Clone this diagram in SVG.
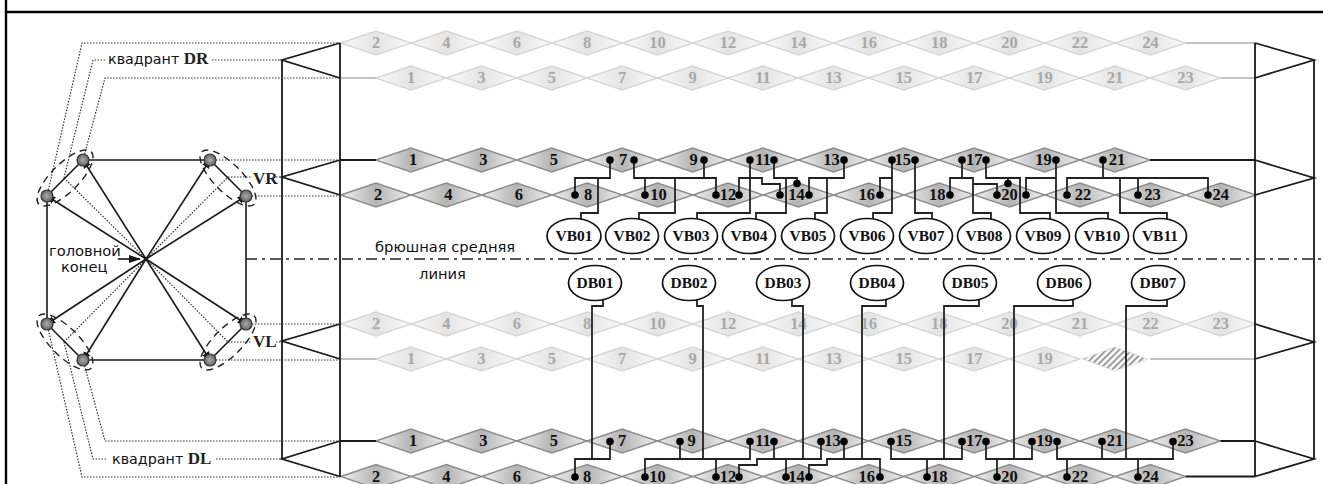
<svg xmlns="http://www.w3.org/2000/svg" width="1323" height="484" viewBox="0 0 1323 484">
<style>
text{font-family:"Liberation Serif","Times New Roman",serif}
.n text,text.n{font-size:16.5px;font-weight:bold;text-anchor:middle;fill:#111}
.l text{fill:#a8a8a8}
.v text{font-size:15.5px}
.s{font-family:"DejaVu Sans",sans-serif;font-size:14.7px;fill:#111}
.k{font-family:"DejaVu Sans",sans-serif;font-size:14.3px;fill:#111}
.q{font-family:"Liberation Serif",serif;font-size:17px;fill:#222}
.w{fill:none;stroke:#222;stroke-width:1.8}
.b{fill:none;stroke:#1a1a1a;stroke-width:1.8}
.o{fill:none;stroke:#333;stroke-width:1.2;stroke-dasharray:1.5 1.5}
.da{fill:none;stroke:#222;stroke-width:1.4;stroke-dasharray:7 5}
.sp{fill:none;stroke:#1a1a1a;stroke-width:1.6}
.e{fill:#fff;stroke:#111;stroke-width:1.7}
.dot{fill:#000}
</style>
<defs>
<linearGradient id="gd"><stop offset="0" stop-color="#f0f0f0"/><stop offset=".5" stop-color="#b4b4b4"/><stop offset="1" stop-color="#f0f0f0"/></linearGradient>
<linearGradient id="gl"><stop offset="0" stop-color="#fafafa"/><stop offset=".5" stop-color="#e4e4e4"/><stop offset="1" stop-color="#fafafa"/></linearGradient>
<radialGradient id="gc"><stop offset="0" stop-color="#aaa"/><stop offset="1" stop-color="#666"/></radialGradient>
<pattern id="hatch" width="4.5" height="4.5" patternUnits="userSpaceOnUse" patternTransform="rotate(45)"><rect width="4.5" height="4.5" fill="#fff"/><rect width="2" height="4.5" fill="#9a9a9a"/></pattern>
<polygon id="dd" points="-35.2,0 0,-12 35.2,0 0,12" fill="url(#gd)" stroke="#8c8c8c" stroke-width="1.4"/>
<polygon id="ld" points="-35.2,0 0,-12 35.2,0 0,12" fill="url(#gl)" stroke="#d6d6d6" stroke-width="1.4"/>
<circle id="pt" r="3.800" class="dot"/>
<marker id="ah" markerWidth="6" markerHeight="6" refX="5" refY="3" orient="auto"><path d="M0,0.5L5,3L0,5.5z" fill="#111"/></marker>
<marker id="big" markerWidth="12" markerHeight="8" refX="11" refY="4" orient="auto" markerUnits="userSpaceOnUse"><path d="M0,0L12,4L0,8z" fill="#111"/></marker>
</defs>
<rect width="1323" height="484" fill="#fff"/>
<path d="M6,0V484M6,12H1323" fill="none" stroke="#000" stroke-width="2.4"/>

<g id="row-dr-even" class="n l">
<g id="dr2" transform="translate(376,43)"><use href="#ld"/><text y="5">2</text></g>
<g id="dr4" transform="translate(446.4,43)"><use href="#ld"/><text y="5">4</text></g>
<g id="dr6" transform="translate(516.8,43)"><use href="#ld"/><text y="5">6</text></g>
<g id="dr8" transform="translate(587.2,43)"><use href="#ld"/><text y="5">8</text></g>
<g id="dr10" transform="translate(657.6,43)"><use href="#ld"/><text y="5">10</text></g>
<g id="dr12" transform="translate(728,43)"><use href="#ld"/><text y="5">12</text></g>
<g id="dr14" transform="translate(798.4,43)"><use href="#ld"/><text y="5">14</text></g>
<g id="dr16" transform="translate(868.8,43)"><use href="#ld"/><text y="5">16</text></g>
<g id="dr18" transform="translate(939.2,43)"><use href="#ld"/><text y="5">18</text></g>
<g id="dr20" transform="translate(1009.6,43)"><use href="#ld"/><text y="5">20</text></g>
<g id="dr22" transform="translate(1080,43)"><use href="#ld"/><text y="5">22</text></g>
<g id="dr24" transform="translate(1150.4,43)"><use href="#ld"/><text y="5">24</text></g>
</g>
<g id="row-dr-odd" class="n l">
<g id="dr1" transform="translate(411,78)"><use href="#ld"/><text y="5">1</text></g>
<g id="dr3" transform="translate(481.4,78)"><use href="#ld"/><text y="5">3</text></g>
<g id="dr5" transform="translate(551.8,78)"><use href="#ld"/><text y="5">5</text></g>
<g id="dr7" transform="translate(622.2,78)"><use href="#ld"/><text y="5">7</text></g>
<g id="dr9" transform="translate(692.6,78)"><use href="#ld"/><text y="5">9</text></g>
<g id="dr11" transform="translate(763,78)"><use href="#ld"/><text y="5">11</text></g>
<g id="dr13" transform="translate(833.4,78)"><use href="#ld"/><text y="5">13</text></g>
<g id="dr15" transform="translate(903.8,78)"><use href="#ld"/><text y="5">15</text></g>
<g id="dr17" transform="translate(974.2,78)"><use href="#ld"/><text y="5">17</text></g>
<g id="dr19" transform="translate(1044.6,78)"><use href="#ld"/><text y="5">19</text></g>
<g id="dr21" transform="translate(1115,78)"><use href="#ld"/><text y="5">21</text></g>
<g id="dr23" transform="translate(1185.4,78)"><use href="#ld"/><text y="5">23</text></g>
</g>
<g id="row-vr-odd" class="n">
<g id="vr1" transform="translate(411,160)"><use href="#dd"/><text x="2" y="5">1</text></g>
<g id="vr3" transform="translate(481.4,160)"><use href="#dd"/><text x="2" y="5">3</text></g>
<g id="vr5" transform="translate(551.8,160)"><use href="#dd"/><text x="2" y="5">5</text></g>
<g id="vr7" transform="translate(622.2,160)"><use href="#dd"/><text x="1" y="5">7</text></g>
<g id="vr9" transform="translate(692.6,160)"><use href="#dd"/><text x="1" y="5">9</text></g>
<g id="vr11" transform="translate(763,160)"><use href="#dd"/><text y="5">11</text></g>
<g id="vr13" transform="translate(833.4,160)"><use href="#dd"/><text x="-2" y="5">13</text></g>
<g id="vr15" transform="translate(903.8,160)"><use href="#dd"/><text x="-1" y="5">15</text></g>
<g id="vr17" transform="translate(974.2,160)"><use href="#dd"/><text y="5">17</text></g>
<g id="vr19" transform="translate(1044.6,160)"><use href="#dd"/><text x="-1" y="5">19</text></g>
<g id="vr21" transform="translate(1115,160)"><use href="#dd"/><text x="2" y="5">21</text></g>
</g>
<g id="row-vr-even" class="n">
<g id="vr2" transform="translate(376,195)"><use href="#dd"/><text x="2" y="5">2</text></g>
<g id="vr4" transform="translate(446.4,195)"><use href="#dd"/><text x="2" y="5">4</text></g>
<g id="vr6" transform="translate(516.8,195)"><use href="#dd"/><text x="2" y="5">6</text></g>
<g id="vr8" transform="translate(587.2,195)"><use href="#dd"/><text x="1" y="5">8</text></g>
<g id="vr10" transform="translate(657.6,195)"><use href="#dd"/><text x="1" y="5">10</text></g>
<g id="vr12" transform="translate(728,195)"><use href="#dd"/><text y="5">12</text></g>
<g id="vr14" transform="translate(798.4,195)"><use href="#dd"/><text x="-2" y="5">14</text></g>
<g id="vr16" transform="translate(868.8,195)"><use href="#dd"/><text x="-2" y="5">16</text></g>
<g id="vr18" transform="translate(939.2,195)"><use href="#dd"/><text x="-2" y="5">18</text></g>
<g id="vr20" transform="translate(1009.6,195)"><use href="#dd"/><text y="5">20</text></g>
<g id="vr22" transform="translate(1080,195)"><use href="#dd"/><text x="3" y="5">22</text></g>
<g id="vr23" transform="translate(1150.4,195)"><use href="#dd"/><text x="2" y="5">23</text></g>
<g id="vr24" transform="translate(1220.8,195)"><use href="#dd"/><text y="5">24</text></g>
</g>
<g id="row-vl-even" class="n l">
<g id="vl2" transform="translate(376,324)"><use href="#ld"/><text y="5">2</text></g>
<g id="vl4" transform="translate(446.4,324)"><use href="#ld"/><text y="5">4</text></g>
<g id="vl6" transform="translate(516.8,324)"><use href="#ld"/><text y="5">6</text></g>
<g id="vl8" transform="translate(587.2,324)"><use href="#ld"/><text y="5">8</text></g>
<g id="vl10" transform="translate(657.6,324)"><use href="#ld"/><text y="5">10</text></g>
<g id="vl12" transform="translate(728,324)"><use href="#ld"/><text y="5">12</text></g>
<g id="vl14" transform="translate(798.4,324)"><use href="#ld"/><text y="5">14</text></g>
<g id="vl16" transform="translate(868.8,324)"><use href="#ld"/><text y="5">16</text></g>
<g id="vl18" transform="translate(939.2,324)"><use href="#ld"/><text y="5">18</text></g>
<g id="vl20" transform="translate(1009.6,324)"><use href="#ld"/><text y="5">20</text></g>
<g id="vl21" transform="translate(1080,324)"><use href="#ld"/><text y="5">21</text></g>
<g id="vl22" transform="translate(1150.4,324)"><use href="#ld"/><text y="5">22</text></g>
<g id="vl23" transform="translate(1220.8,324)"><use href="#ld"/><text y="5">23</text></g>
</g>
<g id="row-vl-odd" class="n l">
<g id="vl1" transform="translate(411,359)"><use href="#ld"/><text y="5">1</text></g>
<g id="vl3" transform="translate(481.4,359)"><use href="#ld"/><text y="5">3</text></g>
<g id="vl5" transform="translate(551.8,359)"><use href="#ld"/><text y="5">5</text></g>
<g id="vl7" transform="translate(622.2,359)"><use href="#ld"/><text y="5">7</text></g>
<g id="vl9" transform="translate(692.6,359)"><use href="#ld"/><text y="5">9</text></g>
<g id="vl11" transform="translate(763,359)"><use href="#ld"/><text y="5">11</text></g>
<g id="vl13" transform="translate(833.4,359)"><use href="#ld"/><text y="5">13</text></g>
<g id="vl15" transform="translate(903.8,359)"><use href="#ld"/><text y="5">15</text></g>
<g id="vl17" transform="translate(974.2,359)"><use href="#ld"/><text y="5">17</text></g>
<g id="vl19" transform="translate(1044.6,359)"><use href="#ld"/><text y="5">19</text></g>
<g id="vl-hatched" transform="translate(1115,359)"><polygon points="-33,0 0,-12 33,0 0,12" fill="url(#hatch)" stroke="#e0e0e0"/></g>
</g>
<g id="row-dl-odd" class="n">
<g id="dl1" transform="translate(411,441)"><use href="#dd"/><text x="2" y="5">1</text></g>
<g id="dl3" transform="translate(481.4,441)"><use href="#dd"/><text x="2" y="5">3</text></g>
<g id="dl5" transform="translate(551.8,441)"><use href="#dd"/><text x="2" y="5">5</text></g>
<g id="dl7" transform="translate(622.2,441)"><use href="#dd"/><text y="5">7</text></g>
<g id="dl9" transform="translate(692.6,441)"><use href="#dd"/><text x="-1" y="5">9</text></g>
<g id="dl11" transform="translate(763,441)"><use href="#dd"/><text y="5">11</text></g>
<g id="dl13" transform="translate(833.4,441)"><use href="#dd"/><text x="-1" y="5">13</text></g>
<g id="dl15" transform="translate(903.8,441)"><use href="#dd"/><text y="5">15</text></g>
<g id="dl17" transform="translate(974.2,441)"><use href="#dd"/><text y="5">17</text></g>
<g id="dl19" transform="translate(1044.6,441)"><use href="#dd"/><text y="5">19</text></g>
<g id="dl21" transform="translate(1115,441)"><use href="#dd"/><text y="5">21</text></g>
<g id="dl23" transform="translate(1185.4,441)"><use href="#dd"/><text y="5">23</text></g>
</g>
<g id="row-dl-even" class="n">
<g id="dl2" transform="translate(376,476.5)"><use href="#dd"/><text y="5">2</text></g>
<g id="dl4" transform="translate(446.4,476.5)"><use href="#dd"/><text y="5">4</text></g>
<g id="dl6" transform="translate(516.8,476.5)"><use href="#dd"/><text y="5">6</text></g>
<g id="dl8" transform="translate(587.2,476.5)"><use href="#dd"/><text y="5">8</text></g>
<g id="dl10" transform="translate(657.6,476.5)"><use href="#dd"/><text y="5">10</text></g>
<g id="dl12" transform="translate(728,476.5)"><use href="#dd"/><text y="5">12</text></g>
<g id="dl14" transform="translate(798.4,476.5)"><use href="#dd"/><text x="-2" y="5">14</text></g>
<g id="dl16" transform="translate(868.8,476.5)"><use href="#dd"/><text x="-2" y="5">16</text></g>
<g id="dl18" transform="translate(939.2,476.5)"><use href="#dd"/><text y="5">18</text></g>
<g id="dl20" transform="translate(1009.6,476.5)"><use href="#dd"/><text y="5">20</text></g>
<g id="dl22" transform="translate(1080,476.5)"><use href="#dd"/><text y="5">22</text></g>
<g id="dl24" transform="translate(1150.4,476.5)"><use href="#dd"/><text y="5">24</text></g>
</g>

<g id="connectors">
<path d="M340,78H376M1185.6,43H1255M1220.6,78H1255M1150,359H1255M340,359H376" fill="none" stroke="#b0b0b0" stroke-width="1.6"/>
<path class="b" d="M340,160H376M1150.2,160H1255M340,441H376M1220.6,441H1255M1185.6,476.5H1255"/>
<path class="b" d="M282,60V459M340,43V477M1255,43V477M1314,60V459"/>
<path class="b" d="M340,43L282,60L340,78M340,160L282,177L340,195M340,324L282,341L340,359M340,441L282,459L340,476.5"/>
<path class="b" d="M1255,43L1314,60L1255,78M1255,160L1314,178L1255,195M1255,324L1314,342L1255,359M1255,441L1314,459L1255,476.5"/>
<path d="M246,259H1323" fill="none" stroke="#222" stroke-width="1.5" stroke-dasharray="11 5 3 5"/>

<path class="o" d="M47,196L82,43H340M64,178L93,60H106M212,60H282M83,160L105,78H340M210,160H340M246,196H340M228,177H252M276,177H282M47,324L82,477H340M64,342L93,459H106M216,459H282M83,360L105,441H340M246,324H340M210,360H340M228,342H252M276,342H282"/>
<path class="o" d="M64,178L146,259L228,177M64,342L146,259L228,342"/>
<path class="sp" marker-end="url(#ah)" d="M146,259L47,196"/>
<path class="sp" marker-end="url(#ah)" d="M146,259L83,160"/>
<path class="sp" marker-end="url(#ah)" d="M146,259L210,160"/>
<path class="sp" marker-end="url(#ah)" d="M146,259L246,196"/>
<path class="sp" marker-end="url(#ah)" d="M146,259L47,324"/>
<path class="sp" marker-end="url(#ah)" d="M146,259L83,360"/>
<path class="sp" marker-end="url(#ah)" d="M146,259L210,360"/>
<path class="sp" marker-end="url(#ah)" d="M146,259L246,324"/>
<path class="sp" d="M47,196L83,160H210L246,196V324L210,360H83L47,324Z"/>
<path d="M118,259H140" fill="none" stroke="#111" stroke-width="1.6" marker-end="url(#big)"/>
<ellipse class="da" cx="65" cy="178" rx="37" ry="14" transform="rotate(-45 65 178)"/>
<ellipse class="da" cx="228" cy="178" rx="37" ry="14" transform="rotate(45 228 178)"/>
<ellipse class="da" cx="65" cy="342" rx="37" ry="14" transform="rotate(45 65 342)"/>
<ellipse class="da" cx="228" cy="342" rx="37" ry="14" transform="rotate(-45 228 342)"/>

<path class="w" d="M610,160V178H575V195M598,178V213H581V219"/>
<path class="w" d="M634,160V178H716V195M645,178V195M704,160V178M675,178V213H639V219"/>
<path class="w" d="M750,160V213H697V219M739,195V178H762V184H780V195"/>
<path class="w" d="M774,160V178H797V183M786,178V213H756V219"/>
<path class="w" d="M844,160V178H809V195M827,178V213H815V219"/>
<path class="w" d="M892,160V213H873V219M880,195V178H892"/>
<path class="w" d="M915,160V213H932V219"/>
<path class="w" d="M962,160V178H950V195M962,178H973V213H991V219M973,184H997V195"/>
<path class="w" d="M986,160V178H1020V213H1050V219M1008,178V183"/>
<path class="w" d="M1056,160V213H1108V219M1026,195V178H1056"/>
<path class="w" d="M1103,160V178H1067V195M1103,178H1208V195M1138,178V195M1120,178V213H1167V219"/>

<path class="w" d="M603,300V306H592V459"/>
<path class="w" d="M697,300V306H703V459"/>
<path class="w" d="M792,300V306H803V459"/>
<path class="w" d="M886,300V306H862V459"/>
<path class="w" d="M979,300V306H944V459"/>
<path class="w" d="M1073,300V306H1014V459"/>
<path class="w" d="M1167,300V306H1126V459"/>

<path class="w" d="M610,441V459H575V477"/>
<path class="w" d="M645,477V459H750V441M680,441V459M716,459V477"/>
<path class="w" d="M739,477V465H757V459H821V441M774,441V459M786,459V477"/>
<path class="w" d="M809,477V465H827V459H880V477M844,441V459"/>
<path class="w" d="M891,441V459H962V441M927,459V477"/>
<path class="w" d="M986,441V459H1032V441M997,459V477"/>
<path class="w" d="M1057,441V459H1173V441M1067,459V477M1102,441V459M1138,459V477"/>

<g id="dots-top">
<use href="#pt" x="610" y="160"/><use href="#pt" x="634" y="160"/><use href="#pt" x="704" y="160"/><use href="#pt" x="750" y="160"/><use href="#pt" x="774" y="160"/><use href="#pt" x="844" y="160"/><use href="#pt" x="892" y="160"/><use href="#pt" x="915" y="160"/><use href="#pt" x="962" y="160"/><use href="#pt" x="986" y="160"/><use href="#pt" x="1056" y="160"/><use href="#pt" x="1103" y="160"/>
<use href="#pt" x="575" y="195"/><use href="#pt" x="645" y="195"/><use href="#pt" x="716" y="195"/><use href="#pt" x="739" y="195"/><use href="#pt" x="780" y="195"/><use href="#pt" x="809" y="195"/><use href="#pt" x="880" y="195"/><use href="#pt" x="950" y="195"/><use href="#pt" x="997" y="195"/><use href="#pt" x="1026" y="195"/><use href="#pt" x="1067" y="195"/><use href="#pt" x="1138" y="195"/><use href="#pt" x="1208" y="195"/>
<use href="#pt" x="797" y="183.500"/><use href="#pt" x="1008" y="183.500"/>
</g>
<g id="dots-bottom">
<use href="#pt" x="610" y="441.500"/><use href="#pt" x="680" y="441.500"/><use href="#pt" x="750" y="441.500"/><use href="#pt" x="774" y="441.500"/><use href="#pt" x="821" y="441.500"/><use href="#pt" x="844" y="441.500"/><use href="#pt" x="891" y="441.500"/><use href="#pt" x="962" y="441.500"/><use href="#pt" x="986" y="441.500"/><use href="#pt" x="1032" y="441.500"/><use href="#pt" x="1057" y="441.500"/><use href="#pt" x="1102" y="441.500"/><use href="#pt" x="1173" y="441.500"/>
<use href="#pt" x="575" y="477"/><use href="#pt" x="645" y="477"/><use href="#pt" x="716" y="477"/><use href="#pt" x="739" y="477"/><use href="#pt" x="786" y="477"/><use href="#pt" x="809" y="477"/><use href="#pt" x="880" y="477"/><use href="#pt" x="927" y="477"/><use href="#pt" x="997" y="477"/><use href="#pt" x="1067" y="477"/><use href="#pt" x="1138" y="477"/>
</g>
</g>

<g id="muscle-cells" fill="url(#gc)" stroke="#333" stroke-width="1.2">
<g id="cell-dr-outer"><circle cx="47" cy="196" r="6"/></g>
<g id="cell-dr-inner"><circle cx="83" cy="160" r="6"/></g>
<g id="cell-vr-inner"><circle cx="210" cy="160" r="6"/></g>
<g id="cell-vr-outer"><circle cx="246" cy="196" r="6"/></g>
<g id="cell-dl-outer"><circle cx="47" cy="324" r="6"/></g>
<g id="cell-dl-inner"><circle cx="83" cy="360" r="6"/></g>
<g id="cell-vl-inner"><circle cx="210" cy="360" r="6"/></g>
<g id="cell-vl-outer"><circle cx="246" cy="324" r="6"/></g>
</g>

<g id="vb-neurons" class="n v">
<g id="VB01"><ellipse class="e" cx="574" cy="236" rx="27" ry="17.500"/><text x="574" y="241">VB01</text></g>
<g id="VB02"><ellipse class="e" cx="632" cy="236" rx="26.500" ry="17.500"/><text x="632" y="241">VB02</text></g>
<g id="VB03"><ellipse class="e" cx="691" cy="236" rx="26.500" ry="17.500"/><text x="691" y="241">VB03</text></g>
<g id="VB04"><ellipse class="e" cx="749" cy="236" rx="26.500" ry="17.500"/><text x="749" y="241">VB04</text></g>
<g id="VB05"><ellipse class="e" cx="808" cy="236" rx="26.500" ry="17.500"/><text x="808" y="241">VB05</text></g>
<g id="VB06"><ellipse class="e" cx="867" cy="236" rx="26.500" ry="17.500"/><text x="867" y="241">VB06</text></g>
<g id="VB07"><ellipse class="e" cx="926" cy="236" rx="26.500" ry="17.500"/><text x="926" y="241">VB07</text></g>
<g id="VB08"><ellipse class="e" cx="984" cy="236" rx="26.500" ry="17.500"/><text x="984" y="241">VB08</text></g>
<g id="VB09"><ellipse class="e" cx="1043" cy="236" rx="26.500" ry="17.500"/><text x="1043" y="241">VB09</text></g>
<g id="VB10"><ellipse class="e" cx="1102" cy="236" rx="26.500" ry="17.500"/><text x="1102" y="241">VB10</text></g>
<g id="VB11"><ellipse class="e" cx="1160" cy="236" rx="26.500" ry="17.500"/><text x="1160" y="241">VB11</text></g>
</g>
<g id="db-neurons" class="n v">
<g id="DB01"><ellipse class="e" cx="595" cy="283" rx="26.500" ry="17.500"/><text x="595" y="288">DB01</text></g>
<g id="DB02"><ellipse class="e" cx="689" cy="283" rx="26.500" ry="17.500"/><text x="689" y="288">DB02</text></g>
<g id="DB03"><ellipse class="e" cx="783" cy="283" rx="26.500" ry="17.500"/><text x="783" y="288">DB03</text></g>
<g id="DB04"><ellipse class="e" cx="877" cy="283" rx="26.500" ry="17.500"/><text x="877" y="288">DB04</text></g>
<g id="DB05"><ellipse class="e" cx="970" cy="283" rx="26.500" ry="17.500"/><text x="970" y="288">DB05</text></g>
<g id="DB06"><ellipse class="e" cx="1064" cy="283" rx="26.500" ry="17.500"/><text x="1064" y="288">DB06</text></g>
<g id="DB07"><ellipse class="e" cx="1158" cy="283" rx="26.500" ry="17.500"/><text x="1158" y="288">DB07</text></g>
</g>

<g id="labels">
<text class="k" x="108" y="64">квадрант <tspan class="q" font-weight="bold">DR</tspan></text>
<text class="k" x="112" y="464">квадрант <tspan class="q" font-weight="bold">DL</tspan></text>
<text class="q" x="253" y="184" font-weight="bold">VR</text>
<text class="q" x="253" y="347" font-weight="bold">VL</text>
<text class="s" x="49" y="256">головной</text>
<text class="s" x="61" y="272">конец</text>
<text class="s" x="375" y="252">брюшная средняя</text>
<text class="s" x="419" y="279">линия</text>
</g>
</svg>
